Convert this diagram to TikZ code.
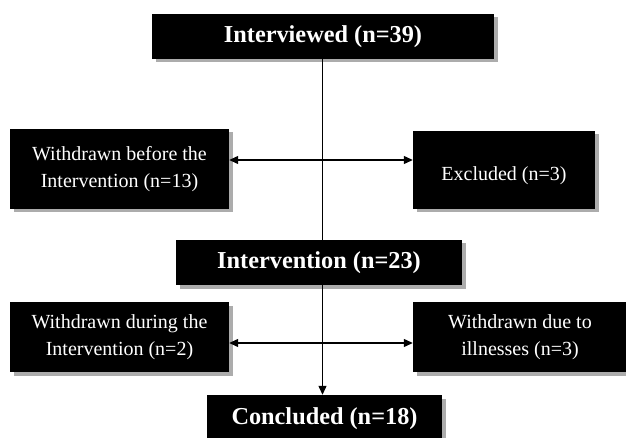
\documentclass[tikz,border=0pt]{standalone}
\usepackage{fontspec}
\setmainfont{Liberation Serif}
\usepackage{tikz}
\usetikzlibrary{positioning, arrows.meta, shadows}

\begin{document}
\begin{tikzpicture}[x=1pt,y=1pt,
    box/.style={fill=black,text=white,inner sep=0pt,align=center,
        drop shadow={shadow xshift=3.5pt,shadow yshift=-3.5pt,fill=gray!65,opacity=1},
        font=\fontsize{20}{27}\selectfont},
    mainbox/.style={box,font=\fontsize{24.3}{29}\selectfont\bfseries},
    link/.style={line width=1.2pt},
    >={Triangle[length=9pt,width=8pt]}]
    \clip (0,0) rectangle (626,-438);
    \useasboundingbox (0,0) rectangle (626,-438);
    \node[mainbox,minimum width=342pt,minimum height=45pt] (intv) at (323,-36.5) {Interviewed (n=39)};
    \node[box,minimum width=219pt,minimum height=80pt] (wbef) at (119.5,-169) {Withdrawn before the\\Intervention (n=13)};
    \node[box,minimum width=182pt,minimum height=78pt] (excl) at (504,-170) {\raisebox{-6pt}[14pt][5pt]{Excluded (n=3)}};
    \node[mainbox,minimum width=286pt,minimum height=45pt] (inter) at (319,-262.5) {Intervention (n=23)};
    \node[box,minimum width=219pt,minimum height=70pt] (wdur) at (119.5,-337) {Withdrawn during the\\Intervention (n=2)};
    \node[box,minimum width=214pt,minimum height=70pt] (ill) at (520,-337) {Withdrawn due to\\illnesses (n=3)};
    \node[mainbox,minimum width=235pt,minimum height=48pt] (concl) at (324.5,-419) {Concluded (n=18)};
    \coordinate (split) at (322.5,-160);
    \coordinate (cross) at (322.5,-343);
    % main line
    \draw[link] (intv.south -| split) -- (inter.north -| split);
    \draw[link,->] (inter.south -| split) -- (concl.north -| split);
    % side arrows
    \draw[link,->] (split) -- (wbef.east |- split);
    \draw[link,->] (split) -- (excl.west |- split);
    \draw[link,<->] (wdur.east |- cross) -- (ill.west |- cross);
\end{tikzpicture}
\end{document}
